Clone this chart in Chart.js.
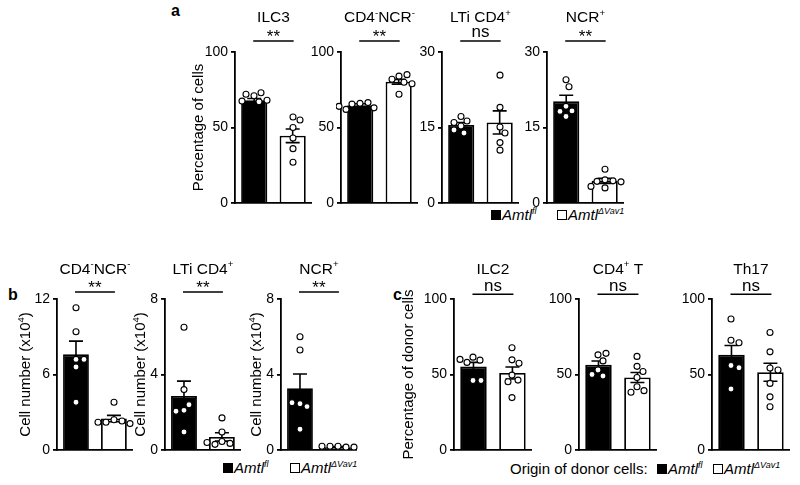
<!DOCTYPE html>
<html>
<head>
<meta charset="utf-8">
<script src="https://cdn.jsdelivr.net/npm/chart.js@4.4.1/dist/chart.umd.min.js"></script>
<style>
  body { margin: 0; background: #fff; }
  #figure { position: relative; width: 800px; height: 485px; overflow: hidden; background: #fff;
            font-family: "Liberation Sans", Arial, Helvetica, sans-serif; color: #000; }
  #figure canvas { position: absolute; }
  .tag { position: absolute; font-weight: bold; font-size: 16px; line-height: 16px; }
  .legend { position: absolute; font-size: 15px; line-height: 15px; white-space: nowrap; }
  .legend i { font-style: italic; }
  .legend sup { font-size: 9px; font-style: italic; vertical-align: 6px; line-height: 0; }
  .sq { display: inline-block; box-sizing: border-box; width: 10px; height: 10px; border: 1.5px solid #000; margin-right: 1px; }
</style>
</head>
<body>
<div id="figure">
  <div class="tag" style="left:171px; top:3px">a</div>
  <div class="tag" style="left:8px; top:287px">b</div>
  <div class="tag" style="left:393px; top:287px">c</div>

  <div class="legend" style="left:491px; top:207px"><span class="sq" style="background:#000"></span><i>Amtl</i><sup>fl</sup></div>
  <div class="legend" style="left:557px; top:207px"><span class="sq"></span><i>Amtl</i><sup>ΔVav1</sup></div>

  <div class="legend" style="left:223px; top:460px"><span class="sq" style="background:#000"></span><i>Amtl</i><sup>fl</sup></div>
  <div class="legend" style="left:290px; top:460px"><span class="sq"></span><i>Amtl</i><sup>ΔVav1</sup></div>

  <div class="legend" style="left:510px; top:461px">Origin of donor cells:</div>
  <div class="legend" style="left:657px; top:461px"><span class="sq" style="background:#000"></span><i>Amtl</i><sup>fl</sup></div>
  <div class="legend" style="left:713px; top:461px"><span class="sq"></span><i>Amtl</i><sup>ΔVav1</sup></div>
</div>
<script>
// Genotype groups (x categories of every small chart)
const genotypes = ['Amtl fl', 'Amtl ΔVav1'];

// Panel a: percentage of cells
const aTitles = ['ILC3', 'CD4^-NCR^-', 'LTi CD4^+', 'NCR^+'];
const aMax = [100, 100, 30, 30];
const aSig = ['**', '**', 'ns', '**'];
const aFlMean = [68, 64.7, 15.5, 20.2];
const aFlSem = [1.2, 1.0, 0.5, 1.2];
const aFlPoints = [
    [71, 73, 72, 67, 67.5, 68],
    [66, 66.5, 65.5, 63, 62, 64],
    [17.2, 16.3, 15.3, 16, 13.9, 14.5],
    [24.5, 23.1, 19.2, 18.3, 17.2, 18.2]
];
const aVavMean = [44.5, 80.3, 16, 4.4];
const aVavSem = [4.5, 1.6, 2.3, 0.5];
const aVavPoints = [
    [57, 55, 50, 43, 36, 27],
    [84, 85, 82, 80, 79, 72],
    [25.4, 19, 15.1, 13.9, 12, 10.5],
    [6.7, 4.6, 4.4, 4.3, 4.2, 3.0, 3.3]
];

// Panel b: cell number (x10^4)
const bTitles = ['CD4^-NCR^-', 'LTi CD4^+', 'NCR^+'];
const bMax = [12, 8, 8];
const bSig = ['**', '**', '**'];
const bFlMean = [7.6, 2.86, 3.27];
const bFlSem = [1.05, 0.79, 0.76];
const bFlPoints = [
    [11.3, 9.4, 7.2, 7.2, 6.6, 3.8],
    [6.5, 3.2, 2.1, 2.4, 2.05, 0.95],
    [6.0, 5.3, 2.45, 2.3, 2.5, 1.1]
];
const bVavMean = [2.5, 0.69, 0.15];
const bVavSem = [0.25, 0.22, 0.03];
const bVavPoints = [
    [3.8, 2.4, 2.3, 2.2, 2.1, 2.2],
    [1.7, 0.95, 0.45, 0.35, 0.3, 0.4],
    [0.2, 0.15, 0.2, 0.15, 0.2, 0.1]
];

// Panel c: percentage of donor cells
const cTitles = ['ILC2', 'CD4^+ T', 'Th17'];
const cMax = [100, 100, 100];
const cSig = ['ns', 'ns', 'ns'];
const cFlMean = [55.3, 56.5, 63];
const cFlSem = [2.7, 2.4, 6.2];
const cFlPoints = [
    [61.5, 59.5, 58, 60, 46, 46],
    [63, 64, 59, 53, 49, 50],
    [86.8, 72.7, 71, 56, 54.5, 40.4]
];
const cVavMean = [51, 48, 51.5];
const cVavSem = [4, 3.3, 6];
const cVavPoints = [
    [67.7, 59.7, 57.5, 49.6, 46.3, 45.2, 34.7],
    [62, 55.4, 52, 48, 41.9, 39.3, 38.2],
    [77.8, 65, 54.3, 53, 44.1, 35.2, 28.6]
];

const FONT = '"Liberation Sans", Arial, Helvetica, sans-serif';
Chart.defaults.font.family = FONT;
Chart.defaults.font.size = 14;
Chart.defaults.color = '#000';

// text with ^x superscripts, caps centred on (cx, cy)
function drawRich(ctx, text, cx, cy, size, rotate) {
    const parts = text.split(/\^(.)/).map((t, i) => ({ t, sup: i % 2 === 1 })).filter(p => p.t);
    const supSize = size * 0.62;
    let width = 0;
    parts.forEach(p => {
        ctx.font = (p.sup ? supSize : size) + 'px ' + FONT;
        p.w = ctx.measureText(p.t).width;
        width += p.w;
    });
    ctx.save();
    ctx.translate(cx, cy);
    if (rotate) ctx.rotate(-Math.PI / 2);
    ctx.textAlign = 'left';
    ctx.textBaseline = 'alphabetic';
    ctx.fillStyle = '#000';
    const base = size * 0.716 / 2;
    let x = -width / 2;
    parts.forEach(p => {
        ctx.font = (p.sup ? supSize : size) + 'px ' + FONT;
        ctx.fillText(p.t, x, p.sup ? base - size * 0.42 : base);
        x += p.w;
    });
    ctx.restore();
}

const figurePlugin = {
    id: 'figure',
    // spread overlapping dots sideways (simple beeswarm)
    afterDatasetsUpdate(chart) {
        chart.data.datasets.forEach((ds, k) => {
            if (ds.type !== 'scatter') return;
            const placed = {};
            chart.getDatasetMeta(k).data.forEach(pt => {
                const key = Math.round(pt.x);
                const list = placed[key] || (placed[key] = []);
                let dx = 0;
                for (let step = 0; step < 60; step++) {
                    dx = (step % 2 ? 1 : -1) * Math.ceil(step / 2);
                    if (list.every(q => Math.hypot(key + dx - q.x, pt.y - q.y) >= 7.5)) break;
                }
                pt.x = key + dx;
                list.push({ x: pt.x, y: pt.y });
            });
        });
    },
    // SEM error bars on top of the bars
    afterDatasetDraw(chart, args) {
        const ds = chart.data.datasets[args.index];
        if (!ds.sem) return;
        const y = chart.scales.y;
        const ctx = chart.ctx;
        ctx.save();
        ctx.strokeStyle = '#000';
        ctx.lineWidth = 1.6;
        args.meta.data.forEach((bar, j) => {
            const hi = y.getPixelForValue(ds.data[j] + ds.sem[j]);
            const lo = y.getPixelForValue(Math.max(0, ds.data[j] - ds.sem[j]));
            ctx.beginPath();
            ctx.moveTo(bar.x, hi); ctx.lineTo(bar.x, lo);
            ctx.moveTo(bar.x - 7, hi); ctx.lineTo(bar.x + 7, hi);
            ctx.moveTo(bar.x - 7, lo); ctx.lineTo(bar.x + 7, lo);
            ctx.stroke();
        });
        ctx.restore();
    },
    afterDraw(chart, args, opts) {
        const ctx = chart.ctx;
        const area = chart.chartArea;
        const bars = chart.getDatasetMeta(1).data;
        const x0 = bars[0].x, x1 = bars[1].x;
        drawRich(ctx, opts.title, (x0 + x1) / 2, opts.titleY, 15.5);

        ctx.save();
        ctx.strokeStyle = '#000';
        ctx.lineWidth = 1.5;
        ctx.beginPath();
        ctx.moveTo(x0 - 1, opts.lineY);
        ctx.lineTo(x1 + 1, opts.lineY);
        ctx.stroke();
        ctx.font = '17px ' + FONT;
        ctx.textAlign = 'center';
        ctx.textBaseline = 'alphabetic';
        ctx.fillStyle = '#000';
        const m = ctx.measureText(opts.sig);
        ctx.fillText(opts.sig, (x0 + x1) / 2,
            opts.lineY - 8.3 + (m.actualBoundingBoxAscent - m.actualBoundingBoxDescent) / 2);
        ctx.restore();

        if (opts.yTitle) drawRich(ctx, opts.yTitle, opts.yTitleX, (area.top + area.bottom) / 2, 15, true);
    }
};

const figure = document.getElementById('figure');
const LEFT = 60;

function makeChart(p, i) {
    const axisX = Math.round(p.axisX[i]);
    const left = axisX - LEFT;
    const top = p.canvasTop;
    const width = LEFT + p.width + 4;
    const height = p.bottom + 14 - top;
    const canvas = document.createElement('canvas');
    canvas.width = width;
    canvas.height = height;
    canvas.style.left = left + 'px';
    canvas.style.top = top + 'px';
    canvas.style.width = width + 'px';
    canvas.style.height = height + 'px';
    figure.appendChild(canvas);

    const dots = p.flPoints[i].map(v => ({ x: genotypes[0], y: v }))
        .concat(p.vavPoints[i].map(v => ({ x: genotypes[1], y: v })));

    new Chart(canvas, {
        type: 'bar',
        data: {
            labels: genotypes,
            datasets: [
                {
                    type: 'scatter',
                    order: 0,
                    data: dots,
                    pointRadius: 3,
                    pointBackgroundColor: '#fff',
                    pointBorderColor: '#000',
                    pointBorderWidth: 1.1
                },
                {
                    type: 'bar',
                    order: 1,
                    data: [p.flMean[i], p.vavMean[i]],
                    sem: [p.flSem[i], p.vavSem[i]],
                    backgroundColor: ['#000', '#fff'],
                    borderColor: '#000',
                    borderWidth: 1.8,
                    borderSkipped: 'start',
                    barPercentage: 0.68,
                    categoryPercentage: 1
                }
            ]
        },
        options: {
            responsive: false,
            animation: false,
            events: [],
            layout: { padding: { left: 0, right: 4, top: p.top - top, bottom: 14 } },
            plugins: {
                legend: { display: false },
                tooltip: { enabled: false },
                figure: {
                    title: p.titles[i],
                    sig: p.sig[i],
                    titleY: p.titleY - top,
                    lineY: p.lineY - top,
                    yTitle: p.yTitle[i],
                    yTitleX: p.yTitleX[i] - left
                }
            },
            scales: {
                x: {
                    grid: { display: false },
                    ticks: { display: false },
                    border: { color: '#000', width: 1.8 },
                    afterFit: s => { s.height = 0; }
                },
                y: {
                    min: 0,
                    max: p.max[i],
                    ticks: { stepSize: p.max[i] / 2, padding: 3, autoSkip: false },
                    grid: { drawOnChartArea: false, tickLength: 4, color: '#000', lineWidth: 1.8 },
                    border: { color: '#000', width: 1.8 },
                    afterFit: s => { s.width = LEFT; }
                }
            }
        },
        plugins: [figurePlugin]
    });
}

const panels = [
    {
        titles: aTitles, max: aMax, sig: aSig,
        flMean: aFlMean, flSem: aFlSem, flPoints: aFlPoints,
        vavMean: aVavMean, vavSem: aVavSem, vavPoints: aVavPoints,
        canvasTop: 0, top: 52, bottom: 203, titleY: 16.7, lineY: 41,
        axisX: [234.7, 340.5, 442, 546.5], width: 78,
        yTitle: ['Percentage of cells', '', '', ''], yTitleX: [198, 0, 0, 0]
    },
    {
        titles: bTitles, max: bMax, sig: bSig,
        flMean: bFlMean, flSem: bFlSem, flPoints: bFlPoints,
        vavMean: bVavMean, vavSem: bVavSem, vavPoints: bVavPoints,
        canvasTop: 255, top: 299, bottom: 450, titleY: 268, lineY: 292,
        axisX: [57, 165, 281], width: 77,
        yTitle: ['Cell number (x10^4)', 'Cell number (x10^4)', 'Cell number (x10^4)'],
        yTitleX: [25, 140, 256]
    },
    {
        titles: cTitles, max: cMax, sig: cSig,
        flMean: cFlMean, flSem: cFlSem, flPoints: cFlPoints,
        vavMean: cVavMean, vavSem: cVavSem, vavPoints: cVavPoints,
        canvasTop: 255, top: 299, bottom: 450, titleY: 268, lineY: 294.3,
        axisX: [454, 578.5, 712], width: 79,
        yTitle: ['Percentage of donor cells', '', ''], yTitleX: [408, 0, 0]
    }
];

panels.forEach(p => p.titles.forEach((t, i) => makeChart(p, i)));
</script>
</body>
</html>
